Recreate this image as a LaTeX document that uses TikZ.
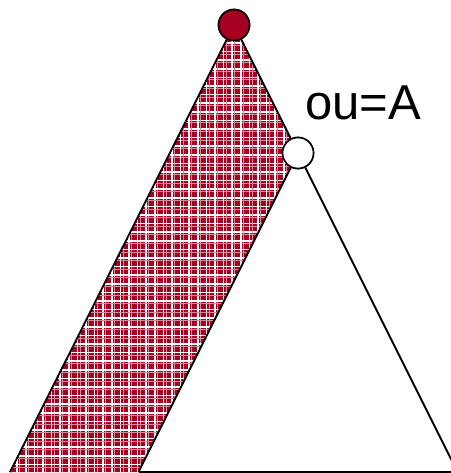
\documentclass[tikz,border=0pt]{standalone}
\usepackage{fontspec}
\usepackage{tikz}
\newfontfamily\trisans{Liberation Sans}
\newcommand{\trilabelfont}{\trisans\fontsize{49}{52}\selectfont}
\definecolor{trired}{RGB}{165,0,33}
\tikzset{
    tri/chart/.style={x=1pt, y=-1pt},
    tri/root/.style={circle, draw=black, fill=trired, line width=1.6pt, minimum size=31pt, inner sep=0pt},
    tri/split/.style={tri/root, fill=white},
    tri/edge/.style={draw=black, line width=1.8pt},
    tri/label/.style={font=\trilabelfont, anchor=base west, inner sep=0pt},
    tri/check/.style={draw=white, line width=1.7pt},
    tri/checkfaint/.style={draw=trired!45!white, line width=0.6pt}
}

\begin{document}
\begin{tikzpicture}[tri/chart]
    \useasboundingbox (0,0) rectangle (450,473);
    \node[tri/root] (top) at (234,25) {};
    \node[tri/split] (mid) at (298,153) {};
    \node[tri/label] (name) at (305,120) {ou=A};
    \coordinate (outerleft) at (10,472);
    \coordinate (innerleft) at (138.5,472);
    \coordinate (innerright) at (457.5,472);
    % hatched band
    \begin{scope}
        \clip (top.center) -- (outerleft) -- (innerleft) -- (mid.center) -- cycle;
        \fill[trired] (0,0) rectangle (450,473);
        \foreach \k in {0,...,55} {
            \draw[tri/checkfaint] (\k*8.6+2.4,0) -- (\k*8.6+2.4,473);
            \draw[tri/checkfaint] (0,\k*8.6+2.4) -- (450,\k*8.6+2.4);
            \draw[tri/check] (\k*8.6,0) -- (\k*8.6,473);
            \draw[tri/check] (0,\k*8.6) -- (450,\k*8.6);
        }
    \end{scope}
    \draw[tri/edge] (top) -- (outerleft);
    \draw[tri/edge] (top) -- (mid);
    \draw[tri/edge] (mid) -- (innerleft);
    \draw[tri/edge] (mid) -- (innerright);
    \draw[tri/edge] (innerleft) -- (innerright);
    \node[tri/root] at (top) {};
    \node[tri/split] at (mid) {};
\end{tikzpicture}
\end{document}
